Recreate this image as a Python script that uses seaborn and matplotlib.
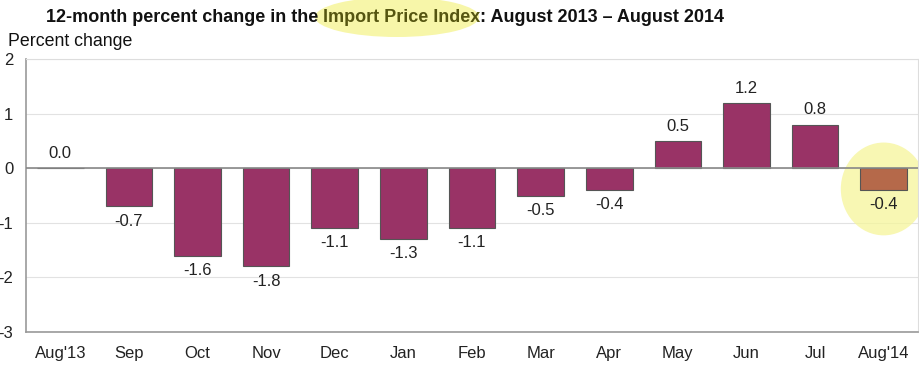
import matplotlib
matplotlib.use("Agg")
import matplotlib.pyplot as plt
import seaborn as sns
import pandas as pd
from matplotlib.patches import Ellipse

months = ["Aug'13", "Sep", "Oct", "Nov", "Dec", "Jan", "Feb", "Mar", "Apr",
          "May", "Jun", "Jul", "Aug'14"]
pct_change = [0.0, -0.7, -1.6, -1.8, -1.1, -1.3, -1.1, -0.5, -0.4, 0.5, 1.2, 0.8, -0.4]
bar_colors = ["#993366"] * 12 + ["#b5694a"]

df = pd.DataFrame({"month": months, "change": pct_change})

sns.set_theme(style="white")
plt.rcParams["font.family"] = ["Liberation Sans", "DejaVu Sans"]

fig = plt.figure(figsize=(9.2, 3.68), dpi=100)
ax = fig.add_axes([26 / 920, 1 - 332 / 368, 892 / 920, 273 / 368])

sns.barplot(data=df, x="month", y="change", hue="month", palette=bar_colors,
            legend=False, width=0.68, saturation=1, edgecolor="#555555",
            linewidth=0.8, ax=ax, zorder=3)

ax.set_ylim(-3, 2)
ax.set_xlim(-0.5, len(months) - 0.5)
ax.set_yticks([-3, -2, -1, 0, 1, 2])
ax.set_yticklabels(["-3", "-2", "-1", "0", "1", "2"])
ax.tick_params(axis="y", length=0, pad=9, labelsize=12, labelcolor="#222222")
ax.tick_params(axis="x", length=0, pad=10, labelsize=12, labelcolor="#222222")
ax.set_xlabel("")
ax.set_ylabel("")
ax.yaxis.grid(True, color="#e2e2e2", lw=0.8, zorder=0)
ax.set_axisbelow(True)
ax.axhline(0, color="#888888", lw=1.2, zorder=4)

for side in ["top", "right"]:
    ax.spines[side].set_color("#dddddd")
    ax.spines[side].set_linewidth(0.8)
for side in ["left", "bottom"]:
    ax.spines[side].set_color("#999999")
    ax.spines[side].set_linewidth(1.2)

for i, v in enumerate(pct_change):
    if v >= 0:
        ax.text(i, v + 0.13, f"{v:.1f}", ha="center", va="bottom", fontsize=12,
                color="#222222", zorder=5)
    else:
        ax.text(i, v - 0.13, f"{v:.1f}", ha="center", va="top", fontsize=12,
                color="#222222", zorder=5)

# yellow highlight around the last bar
ax.add_patch(Ellipse((12.0, -0.38), 1.25, 1.7, color="#f6f59a", alpha=0.75,
                     zorder=1, clip_on=False, lw=0))

# title with highlighted part
fig.patches.append(Ellipse((397 / 920, 1 - 17 / 368), 164 / 920, 40 / 368,
                           transform=fig.transFigure, color="#f6f59a",
                           alpha=0.85, lw=0, zorder=0))
title_y = 1 - 18 / 368
t1 = fig.text(46 / 920, title_y, "12-month percent change in the ",
              fontsize=12.95, fontweight="bold", va="center", ha="left",
              color="#111111")
fig.canvas.draw()
bb = t1.get_window_extent()
t2 = fig.text(bb.x1 / 920, title_y, "Import Price Index",
              fontsize=12.95, fontweight="bold", va="center", ha="left",
              color="#555511")
fig.canvas.draw()
bb = t2.get_window_extent()
fig.text(bb.x1 / 920, title_y, ": August 2013 \u2013 August 2014",
         fontsize=12.95, fontweight="bold", va="center", ha="left",
         color="#111111")

fig.text(8 / 920, 1 - 41 / 368, "Percent change", fontsize=12.8, va="center",
         ha="left", color="#111111")

fig.savefig("out.png", dpi=100)
